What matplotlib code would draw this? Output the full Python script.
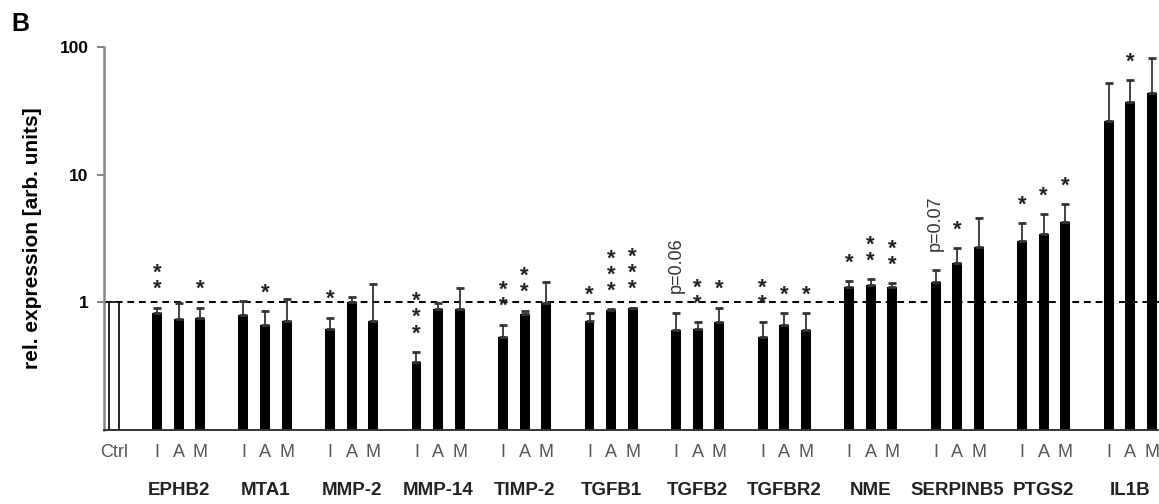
import numpy as np
import matplotlib.pyplot as plt

plt.rcParams['font.family'] = ['Liberation Sans', 'DejaVu Sans']

# data (I, A, M for every gene)
genes = ['EPHB2', 'MTA1', 'MMP-2', 'MMP-14', 'TIMP-2', 'TGFB1',
         'TGFB2', 'TGFBR2', 'NME', 'SERPINB5', 'PTGS2', 'IL1B']
treatments = ['I', 'A', 'M']
ctrl_value = 1.0
means = [[0.82, 0.74, 0.76],
         [0.79, 0.66, 0.72],
         [0.62, 1.00, 0.71],
         [0.34, 0.88, 0.88],
         [0.54, 0.81, 0.98],
         [0.72, 0.87, 0.90],
         [0.61, 0.62, 0.70],
         [0.54, 0.66, 0.61],
         [1.31, 1.36, 1.31],
         [1.43, 2.02, 2.70],
         [3.00, 3.42, 4.24],
         [26.3, 37.0, 43.6]]
# upper end of the error bars
upper = [[0.91, 0.98, 0.91],
         [1.02, 0.85, 1.06],
         [0.76, 1.11, 1.38],
         [0.41, 0.98, 1.29],
         [0.67, 0.86, 1.43],
         [0.82, 0.88, 0.91],
         [0.83, 0.70, 0.91],
         [0.70, 0.82, 0.82],
         [1.46, 1.51, 1.41],
         [1.78, 2.65, 4.55],
         [4.16, 4.90, 5.87],
         [52.0, 55.0, 82.0]]
marks = [['**', '', '*'],
         ['', '*', ''],
         ['*', '', ''],
         ['***', '', ''],
         ['**', '**', ''],
         ['*', '***', '***'],
         ['p=0.06', '**', '*'],
         ['**', '*', '*'],
         ['*', '**', '**'],
         ['p=0.07', '*', ''],
         ['*', '*', '*'],
         ['', '*', '']]

means = np.array(means)
upper = np.array(upper)

fig = plt.figure(figsize=(11.59, 5.04), dpi=100)
ax = fig.add_axes([0.0897, 0.1468, 0.9103, 0.76])

# positions: ctrl at -2, each gene group 4 units apart
pos = np.array([[4 * g + k for k in range(3)] for g in range(len(genes))])
w = 0.46

ax.bar(-2, ctrl_value - 0.1, width=w, color='white', edgecolor='black', linewidth=1.2, bottom=0.1)
ax.bar(pos.ravel(), means.ravel() - 0.1, width=w, bottom=0.1, color='black')
ax.errorbar(pos.ravel(), means.ravel(),
            yerr=[np.zeros(means.size), (upper - means).ravel()],
            fmt='none', ecolor='#333333', elinewidth=1.3, capsize=3, capthick=2)

for g in range(len(genes)):
    for k in range(3):
        m = marks[g][k]
        if not m:
            continue
        if m.startswith('p'):
            ax.annotate(m, (pos[g, k], upper[g, k]), xytext=(0, 14), textcoords='offset points',
                        rotation=90, ha='center', va='bottom', fontsize=13, color='#333333')
        else:
            ax.annotate('\n'.join(m), (pos[g, k], upper[g, k]), xytext=(0, 9),
                        textcoords='offset points', ha='center', va='baseline',
                        fontsize=16, fontweight='bold', color='#222222', linespacing=0.7)

ax.axhline(1, color='black', linestyle=(0, (3.5, 2.5)), linewidth=1.4, zorder=0)

ax.set_yscale('log')
ax.set_ylim(0.1, 100)
ax.set_xlim(-2.45, 46.33)
ax.set_yticks([1, 10, 100])
ax.set_yticklabels(['1', '10', '100'], fontweight='bold', fontsize=12.5)
ax.yaxis.set_minor_locator(plt.NullLocator())
ax.tick_params(axis='y', length=5, width=1.3, color='#777777', pad=6)

ax.set_xticks([-2] + list(pos.ravel()))
ax.set_xticklabels(['Ctrl'] + treatments * len(genes), fontsize=13, color='#555555')
ax.tick_params(axis='x', length=0, pad=10)

for g, name in enumerate(genes):
    ax.text(pos[g, 1], -0.159, name, transform=ax.get_xaxis_transform(),
            ha='center', va='center', fontsize=13.5, fontweight='bold', color='#222222')

ax.set_ylabel('rel. expression [arb. units]', fontweight='bold', fontsize=15, labelpad=13)

for s in ['top', 'right']:
    ax.spines[s].set_visible(False)
ax.spines['left'].set_color('#888888')
ax.spines['left'].set_linewidth(1.8)
ax.spines['bottom'].set_color('#333333')
ax.spines['bottom'].set_linewidth(1.4)

fig.text(0.01, 0.952, 'B', fontsize=18, fontweight='bold', va='center')

fig.savefig('out.png', dpi=100)
